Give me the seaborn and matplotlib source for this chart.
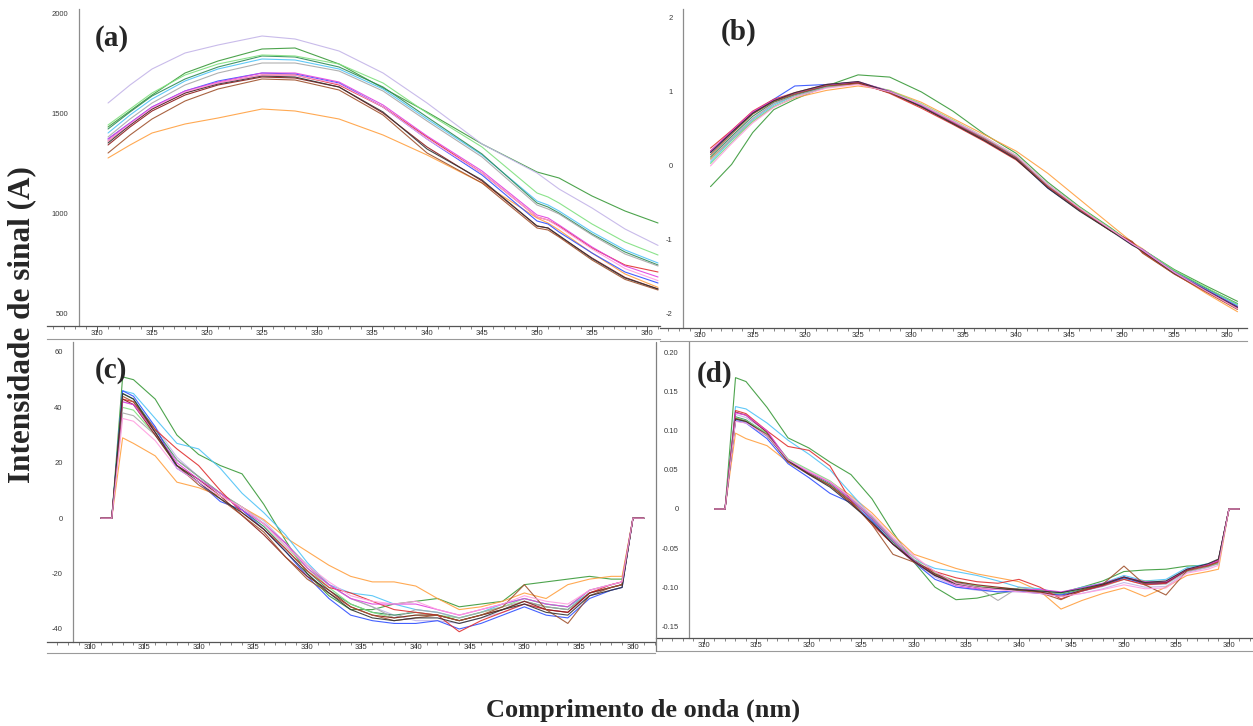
import matplotlib
matplotlib.use("Agg")
import numpy as np
import pandas as pd
import seaborn as sns
import matplotlib.pyplot as plt
from matplotlib.lines import Line2D
from matplotlib.ticker import MultipleLocator

W, H = 1253, 726  # figure size in pixels (dpi 100)

sns.set_style("white")
plt.rcParams["font.family"] = ["Liberation Sans", "DejaVu Sans"]

# samples (same order in every panel) and their line colours
SAMPLES = ["S01", "S02", "S03", "S04", "S05", "S06", "S07",
           "S08", "S09", "S10", "S11", "S12", "S13", "S14"]
COLORS = ["#3a9a3a", "#c3b4e8", "#ffa040", "#4fc3f7", "#2e8b57", "#7fe07f", "#a8a8a8",
          "#3050ff", "#e03030", "#8b1a1a", "#e040e0", "#a0522d", "#333333", "#ff9ee0"]

# (a) raw spectra
WL_A = [311, 313, 315, 318, 321, 325, 328, 332, 336, 340, 345, 350, 351, 352, 355, 358, 361]
SPEC_A = [
    [1430, 1510, 1590, 1700, 1760, 1820, 1825, 1745, 1625, 1505, 1345, 1205, 1190, 1175, 1085, 1010, 950],
    [1550, 1640, 1720, 1800, 1840, 1885, 1870, 1810, 1700, 1550, 1345, 1200, 1160, 1120, 1025, 920, 838],
    [1275, 1340, 1400, 1445, 1475, 1520, 1510, 1470, 1390, 1290, 1150, 975, 950, 915, 800, 695, 628],
    [1400, 1490, 1570, 1660, 1720, 1770, 1765, 1720, 1620, 1470, 1290, 1060, 1040, 1010, 905, 815, 750],
    [1420, 1505, 1585, 1670, 1730, 1785, 1780, 1730, 1630, 1480, 1295, 1050, 1030, 1000, 895, 805, 740],
    [1440, 1520, 1600, 1690, 1745, 1790, 1785, 1745, 1650, 1500, 1330, 1100, 1080, 1050, 945, 855, 790],
    [1380, 1470, 1550, 1640, 1700, 1750, 1750, 1710, 1610, 1460, 1280, 1040, 1020, 995, 890, 795, 735],
    [1370, 1450, 1530, 1610, 1660, 1700, 1695, 1650, 1530, 1370, 1190, 960, 945, 905, 800, 705, 650],
    [1360, 1440, 1520, 1600, 1650, 1690, 1690, 1640, 1530, 1380, 1200, 980, 965, 935, 825, 740, 705],
    [1340, 1430, 1510, 1590, 1640, 1680, 1675, 1630, 1500, 1330, 1160, 935, 925, 885, 775, 678, 620],
    [1370, 1450, 1530, 1610, 1655, 1700, 1700, 1655, 1540, 1385, 1210, 990, 975, 940, 830, 735, 680],
    [1300, 1390, 1470, 1560, 1620, 1670, 1665, 1615, 1490, 1300, 1150, 925, 915, 880, 765, 668, 615],
    [1350, 1440, 1520, 1600, 1645, 1685, 1680, 1630, 1505, 1320, 1165, 935, 925, 888, 772, 675, 620],
    [1360, 1445, 1525, 1605, 1650, 1690, 1690, 1645, 1530, 1370, 1200, 980, 965, 930, 820, 722, 662],
]

# (b) standardised spectra
WL_B = [311, 313, 315, 317, 319, 322, 325, 328, 331, 334, 337, 340, 343, 346, 349, 351, 352, 355, 358, 361]
SPEC_B = [
    [-0.28, 0.02, 0.45, 0.76, 0.90, 1.08, 1.23, 1.20, 1.00, 0.74, 0.43, 0.17, -0.22, -0.55, -0.84, -1.05, -1.13, -1.40, -1.62, -1.83],
    [0.10, 0.38, 0.64, 0.84, 0.96, 1.07, 1.12, 1.01, 0.83, 0.61, 0.38, 0.13, -0.26, -0.57, -0.86, -1.07, -1.14, -1.43, -1.66, -1.89],
    [0.10, 0.35, 0.60, 0.80, 0.92, 1.02, 1.08, 1.02, 0.86, 0.64, 0.42, 0.20, -0.10, -0.45, -0.80, -1.03, -1.12, -1.45, -1.72, -1.97],
    [0.05, 0.35, 0.62, 0.82, 0.95, 1.07, 1.12, 1.00, 0.82, 0.60, 0.37, 0.12, -0.25, -0.58, -0.86, -1.05, -1.13, -1.42, -1.65, -1.88],
    [0.12, 0.40, 0.67, 0.86, 0.96, 1.08, 1.13, 1.01, 0.82, 0.60, 0.37, 0.12, -0.27, -0.58, -0.86, -1.06, -1.13, -1.42, -1.65, -1.86],
    [0.03, 0.32, 0.60, 0.80, 0.93, 1.06, 1.12, 1.02, 0.84, 0.62, 0.39, 0.14, -0.25, -0.56, -0.85, -1.06, -1.13, -1.41, -1.64, -1.87],
    [0.08, 0.37, 0.64, 0.84, 0.95, 1.06, 1.11, 1.00, 0.82, 0.60, 0.37, 0.12, -0.27, -0.58, -0.86, -1.06, -1.14, -1.43, -1.67, -1.90],
    [0.18, 0.45, 0.72, 0.90, 1.08, 1.10, 1.13, 1.00, 0.81, 0.58, 0.35, 0.10, -0.30, -0.60, -0.87, -1.06, -1.14, -1.44, -1.67, -1.90],
    [0.24, 0.48, 0.74, 0.90, 0.99, 1.10, 1.13, 0.98, 0.78, 0.56, 0.33, 0.08, -0.28, -0.58, -0.87, -1.03, -1.17, -1.46, -1.70, -1.93],
    [0.20, 0.46, 0.72, 0.88, 0.98, 1.09, 1.12, 0.99, 0.80, 0.58, 0.35, 0.10, -0.29, -0.60, -0.88, -1.04, -1.16, -1.45, -1.69, -1.92],
    [0.20, 0.47, 0.73, 0.89, 0.98, 1.09, 1.14, 1.01, 0.81, 0.59, 0.36, 0.11, -0.28, -0.59, -0.87, -1.06, -1.13, -1.44, -1.68, -1.91],
    [0.15, 0.43, 0.70, 0.87, 0.97, 1.08, 1.11, 0.99, 0.80, 0.58, 0.36, 0.11, -0.28, -0.59, -0.88, -1.02, -1.18, -1.46, -1.70, -1.94],
    [0.18, 0.45, 0.71, 0.88, 0.99, 1.10, 1.14, 1.00, 0.80, 0.57, 0.34, 0.09, -0.30, -0.61, -0.88, -1.07, -1.15, -1.45, -1.68, -1.91],
    [0.00, 0.30, 0.58, 0.79, 0.93, 1.05, 1.10, 1.00, 0.83, 0.61, 0.39, 0.14, -0.25, -0.57, -0.86, -1.05, -1.14, -1.44, -1.69, -1.93],
]

# (c) and (d) first derivatives
WL_D = [311, 312, 313, 314, 316, 318, 320, 322, 324, 326, 328, 330, 332, 334, 336,
        338, 340, 342, 344, 346, 348, 350, 352, 354, 356, 358, 359, 360, 361]
SPEC_C = [
    [0, 0, 51, 50, 43, 30, 23, 19, 16, 5, -8, -20, -28, -33, -33, -31, -30, -29, -32, -31, -30, -24, -23, -22, -21, -22, -22, 0, 0],
    [0, 0, 42, 41, 33, 22, 15, 9, 4, -1, -9, -17, -24, -29, -32, -35, -37, -37, -38, -36, -34, -31, -33, -34, -28, -26, -25, 0, 0],
    [0, 0, 29, 27, 22.5, 13, 11, 8, 4, -0.5, -7, -12, -17, -21, -23, -23, -24.5, -29, -33, -32, -30, -27, -29, -24, -22, -21, -21, 0, 0],
    [0, 0, 46, 45, 36, 27, 25, 18, 9, 2, -6, -16, -24, -27, -28, -31, -33, -34, -36, -34, -31, -29, -31, -32, -27, -25, -24, 0, 0],
    [0, 0, 45, 43, 32, 21, 15, 9, 3, -3, -11, -19, -26, -31, -34, -35, -34, -35, -37, -35, -33, -30, -32, -33, -27, -25, -24, 0, 0],
    [0, 0, 40, 39, 30, 19, 14, 9, 4, -2, -10, -18, -25, -31, -34, -36, -35, -35, -36, -34, -32, -29, -31, -32, -26, -24, -23, 0, 0],
    [0, 0, 38, 37, 30, 21, 15, 9, 4, -2, -9, -17, -24, -29, -32, -36, -33, -34, -36, -34, -32, -30, -32, -33, -27, -25, -24, 0, 0],
    [0, 0, 46, 44, 33, 18, 13, 6, 3, -4, -12, -21, -29, -35, -37, -38, -38, -37, -40, -38, -35, -32, -35, -36, -29, -26, -25, 0, 0],
    [0, 0, 43, 42, 32, 25, 19, 10, 2, -4, -11, -19, -25, -27, -30, -33, -34, -35, -41, -37, -34, -31, -33, -34, -27, -24, -23, 0, 0],
    [0, 0, 43, 41, 30, 19, 14, 8, 1, -6, -14, -21, -26, -32, -35, -36, -35, -35, -37, -35, -33, -30, -33, -34, -27, -25, -24, 0, 0],
    [0, 0, 42, 41, 31, 20, 14, 9, 3, -2, -9, -18, -24, -29, -31, -31, -31, -33, -35, -33, -31, -29, -31, -32, -26, -24, -23, 0, 0],
    [0, 0, 44, 42, 31, 19, 12, 7, 1, -5, -14, -22, -27, -32, -35, -37, -36, -35, -37, -35, -32, -24, -33, -38, -28, -25, -24, 0, 0],
    [0, 0, 45, 43, 31, 19, 13, 7, 2, -4, -12, -20, -27, -33, -36, -37, -36, -36, -38, -36, -33, -31, -34, -35, -28, -26, -25, 0, 0],
    [0, 0, 36, 35, 28, 18, 13, 8, 4, -2, -10, -17, -23, -28, -30, -31, -30, -33, -35, -33, -31, -28, -30, -31, -26, -24, -23, 0, 0],
]
SPEC_D = [
    [0, 0, 0.168, 0.163, 0.130, 0.091, 0.078, 0.060, 0.044, 0.013, -0.030, -0.068, -0.100, -0.116, -0.114, -0.108, -0.104, -0.104, -0.107, -0.100, -0.092, -0.080, -0.078, -0.077, -0.073, -0.072, -0.070, 0, 0],
    [0, 0, 0.121, 0.117, 0.099, 0.063, 0.049, 0.035, 0.014, -0.011, -0.042, -0.067, -0.087, -0.100, -0.104, -0.106, -0.106, -0.108, -0.112, -0.108, -0.102, -0.094, -0.100, -0.099, -0.081, -0.075, -0.070, 0, 0],
    [0, 0, 0.097, 0.090, 0.081, 0.060, 0.047, 0.035, 0.017, -0.005, -0.033, -0.058, -0.067, -0.076, -0.083, -0.088, -0.093, -0.105, -0.128, -0.117, -0.108, -0.101, -0.112, -0.100, -0.085, -0.080, -0.077, 0, 0],
    [0, 0, 0.131, 0.128, 0.110, 0.088, 0.070, 0.050, 0.020, -0.010, -0.040, -0.065, -0.076, -0.080, -0.085, -0.092, -0.100, -0.102, -0.108, -0.100, -0.095, -0.085, -0.092, -0.090, -0.075, -0.070, -0.066, 0, 0],
    [0, 0, 0.118, 0.114, 0.096, 0.063, 0.046, 0.032, 0.011, -0.013, -0.042, -0.066, -0.084, -0.094, -0.099, -0.102, -0.103, -0.106, -0.109, -0.103, -0.097, -0.088, -0.094, -0.094, -0.078, -0.072, -0.067, 0, 0],
    [0, 0, 0.117, 0.113, 0.097, 0.064, 0.050, 0.036, 0.015, -0.010, -0.040, -0.065, -0.082, -0.092, -0.098, -0.101, -0.102, -0.104, -0.108, -0.102, -0.096, -0.089, -0.092, -0.093, -0.077, -0.073, -0.070, 0, 0],
    [0, 0, 0.115, 0.111, 0.093, 0.062, 0.047, 0.034, 0.013, -0.009, -0.038, -0.062, -0.080, -0.095, -0.100, -0.117, -0.100, -0.105, -0.110, -0.105, -0.099, -0.090, -0.097, -0.096, -0.080, -0.074, -0.069, 0, 0],
    [0, 0, 0.113, 0.110, 0.090, 0.058, 0.040, 0.020, 0.008, -0.015, -0.045, -0.068, -0.090, -0.100, -0.103, -0.106, -0.105, -0.108, -0.110, -0.105, -0.098, -0.088, -0.096, -0.095, -0.078, -0.072, -0.066, 0, 0],
    [0, 0, 0.126, 0.122, 0.100, 0.080, 0.075, 0.055, 0.010, -0.020, -0.045, -0.068, -0.080, -0.088, -0.093, -0.095, -0.090, -0.100, -0.115, -0.105, -0.098, -0.090, -0.097, -0.095, -0.078, -0.072, -0.067, 0, 0],
    [0, 0, 0.124, 0.120, 0.098, 0.062, 0.045, 0.030, 0.008, -0.018, -0.045, -0.066, -0.083, -0.093, -0.097, -0.100, -0.103, -0.106, -0.112, -0.104, -0.097, -0.087, -0.095, -0.094, -0.078, -0.071, -0.065, 0, 0],
    [0, 0, 0.123, 0.120, 0.100, 0.062, 0.047, 0.034, 0.012, -0.012, -0.040, -0.066, -0.085, -0.098, -0.102, -0.103, -0.103, -0.103, -0.106, -0.101, -0.095, -0.087, -0.093, -0.093, -0.077, -0.071, -0.066, 0, 0],
    [0, 0, 0.116, 0.112, 0.095, 0.060, 0.044, 0.030, 0.010, -0.020, -0.058, -0.068, -0.085, -0.095, -0.100, -0.102, -0.104, -0.107, -0.116, -0.104, -0.096, -0.073, -0.097, -0.110, -0.079, -0.073, -0.068, 0, 0],
    [0, 0, 0.115, 0.112, 0.094, 0.062, 0.044, 0.028, 0.006, -0.017, -0.045, -0.067, -0.085, -0.096, -0.100, -0.102, -0.103, -0.105, -0.107, -0.102, -0.096, -0.087, -0.094, -0.092, -0.077, -0.070, -0.064, 0, 0],
    [0, 0, 0.112, 0.110, 0.094, 0.063, 0.048, 0.035, 0.015, -0.008, -0.036, -0.060, -0.080, -0.095, -0.100, -0.103, -0.106, -0.108, -0.112, -0.108, -0.103, -0.097, -0.102, -0.101, -0.082, -0.077, -0.072, 0, 0],
]

# y axis ticks of each panel
YT_A, YL_A = [500, 1000, 1500, 2000], ["500", "1000", "1500", "2000"]
YT_B, YL_B = [-2, -1, 0, 1, 2], ["-2", "-1", "0", "1", "2"]
YT_C, YL_C = [-40, -20, 0, 20, 40, 60], ["-40", "-20", "0", "20", "40", "60"]
YT_D = [-0.15, -0.10, -0.05, 0, 0.05, 0.10, 0.15, 0.20]
YL_D = ["-0.15", "-0.10", "-0.05", "0", "0.05", "0.10", "0.15", "0.20"]


def rect(x0, y0, x1, y1):
    # pixel box (origin top-left) -> figure fraction [left, bottom, width, height]
    return [x0 / W, 1 - y1 / H, (x1 - x0) / W, (y1 - y0) / H]


def long_form(wl, spectra):
    frames = [pd.DataFrame({"nm": wl, "valor": vals, "amostra": name})
              for name, vals in zip(SAMPLES, spectra)]
    return pd.concat(frames, ignore_index=True)


def panel(fig, box, strip, xlim, sxlim, ylim, wl, spectra, yt, yl, minor, tag, tag_xy):
    ax = fig.add_axes(rect(*box))
    df = long_form(wl, spectra)
    sns.lineplot(data=df, x="nm", y="valor", hue="amostra", hue_order=SAMPLES,
                 palette=COLORS, estimator=None, legend=False, lw=0.8, alpha=0.9, ax=ax)
    ax.set_xlim(*xlim)
    ax.set_ylim(*ylim)
    ax.set_xlabel("")
    ax.set_ylabel("")
    ax.set_xticks([])
    ax.set_yticks(yt, labels=yl)
    ax.yaxis.set_minor_locator(MultipleLocator(minor))
    for s in ["top", "right", "bottom"]:
        ax.spines[s].set_visible(False)
    ax.spines["left"].set_color("#8c8c8c")
    ax.spines["left"].set_linewidth(0.9)
    ax.tick_params(axis="y", which="major", length=6, width=0.7, color="#707070",
                   labelsize=5.5, labelcolor="#3a3a3a", pad=1.5)
    ax.tick_params(axis="y", which="minor", length=3, width=0.6, color="#909090")
    ax.patch.set_alpha(0)

    # wavelength strip under the panel
    sx = fig.add_axes(rect(*strip))
    sx.set_xlim(*sxlim)
    sx.set_ylim(0, 1)
    sx.set_yticks([])
    sx.xaxis.set_major_locator(MultipleLocator(5))
    sx.xaxis.set_minor_locator(MultipleLocator(1))
    for s in ["left", "right"]:
        sx.spines[s].set_visible(False)
    sx.spines["top"].set_color("#555555")
    sx.spines["top"].set_linewidth(0.9)
    sx.spines["bottom"].set_color("#9a9a9a")
    sx.spines["bottom"].set_linewidth(0.8)
    sx.tick_params(axis="x", which="both", top=True, bottom=False, direction="in",
                   labeltop=False, labelbottom=True, labelsize=5.5, labelcolor="#333333",
                   pad=-6.2, color="#555555")
    sx.tick_params(axis="x", which="major", length=4, width=0.7)
    sx.tick_params(axis="x", which="minor", length=2, width=0.5)
    sx.patch.set_alpha(0)

    fig.text(tag_xy[0] / W, 1 - tag_xy[1] / H, tag, ha="left", va="center",
             fontsize=21, fontweight="bold", family="Liberation Serif")
    return ax


fig = plt.figure(figsize=(W / 100, H / 100), dpi=100)

panel(fig, (79, 9, 660, 326), (47, 326, 660, 339), (308.36, 361.18), (305.45, 361.18),
      (435, 2020), WL_A, SPEC_A, YT_A, YL_A, 100, "(a)", (95, 39))
panel(fig, (683, 9, 1247, 328), (660, 328, 1247, 341), (308.39, 361.9), (306.2, 361.9),
      (-2.19, 2.12), WL_B, SPEC_B, YT_B, YL_B, 0.1, "(b)", (721, 32))
panel(fig, (73, 342, 655, 642), (47, 642, 655, 653), (308.43, 362.03), (306.04, 362.03),
      (-44.7, 63.6), WL_D, SPEC_C, YT_C, YL_C, 5, "(c)", (95, 371))
panel(fig, (689, 342, 1253, 638), (656, 638, 1253, 651), (308.57, 362.29), (305.43, 362.29),
      (-0.165, 0.2136), WL_D, SPEC_D, YT_D, YL_D, 0.01, "(d)", (697, 374))

# left frame edge of panel (d)
fig.add_artist(Line2D([656 / W, 656 / W], [1 - 342 / H, 1 - 651 / H],
                      color="#808080", lw=0.9, transform=fig.transFigure))

fig.text(643 / W, 1 - 710 / H, "Comprimento de onda (nm)", ha="center", va="center",
         fontsize=19, fontweight="bold", family="Liberation Serif")
fig.text(22 / W, 1 - 325 / H, "Intensidade de sinal (A)", ha="center", va="center",
         rotation=90, fontsize=22.5, fontweight="bold", family="Liberation Serif")

fig.savefig("out.png", dpi=100)
